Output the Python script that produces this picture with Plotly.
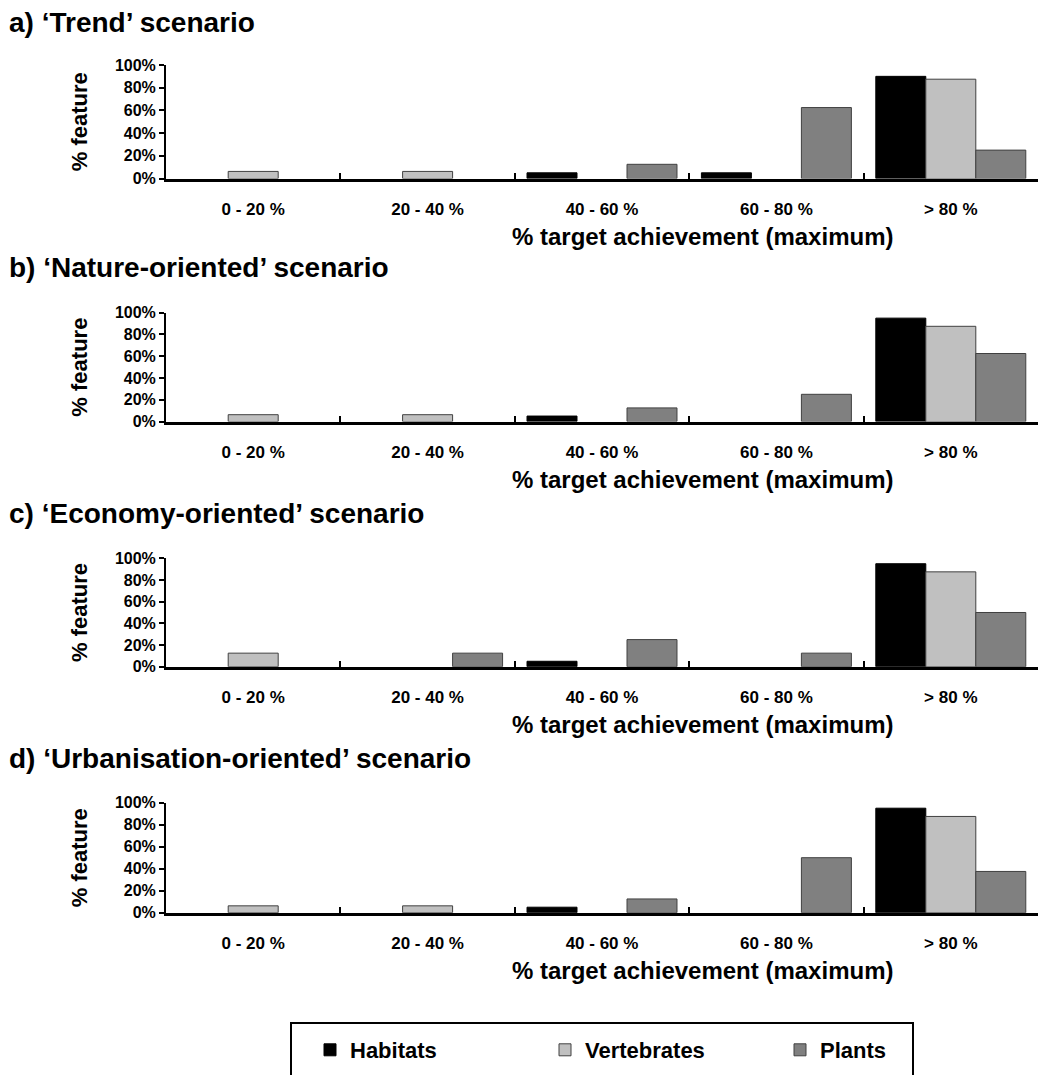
import plotly.graph_objects as go

# ---------------- data ----------------
categories = ["0 - 20 %", "20 - 40 %", "40 - 60 %", "60 - 80 %", "> 80 %"]
series_names = ["Habitats", "Vertebrates", "Plants"]
series_colors = ["#000000", "#c0c0c0", "#808080"]

panel_titles = [
    "a) \u2018Trend\u2019 scenario",
    "b) \u2018Nature-oriented\u2019 scenario",
    "c) \u2018Economy-oriented\u2019 scenario",
    "d) \u2018Urbanisation-oriented\u2019 scenario",
]

# values in % of features
trend_habitats = [0, 0, 5, 5, 90]
trend_vertebrates = [6.25, 6.25, 0, 0, 87.5]
trend_plants = [0, 0, 12.5, 62.5, 25]

nature_habitats = [0, 0, 5, 0, 95]
nature_vertebrates = [6.25, 6.25, 0, 0, 87.5]
nature_plants = [0, 0, 12.5, 25, 62.5]

economy_habitats = [0, 0, 5, 0, 95]
economy_vertebrates = [12.5, 0, 0, 0, 87.5]
economy_plants = [0, 12.5, 25, 12.5, 50]

urban_habitats = [0, 0, 5, 0, 95]
urban_vertebrates = [6.25, 6.25, 0, 0, 87.5]
urban_plants = [0, 0, 12.5, 50, 37.5]

panels = [
    [trend_habitats, trend_vertebrates, trend_plants],
    [nature_habitats, nature_vertebrates, nature_plants],
    [economy_habitats, economy_vertebrates, economy_plants],
    [urban_habitats, urban_vertebrates, urban_plants],
]

x_title = "% target achievement (maximum)"
y_title = "% feature"

# ---------------- layout geometry (pixels) ----------------
W, H = 1038, 1075
plot_left, plot_right = 166, 1038
panel_px = [(65, 178.5), (312.7, 421.5), (558.3, 666.7), (802.7, 912.7)]  # (100% y, 0% y)
title_px = [23, 268, 513, 758]

FONT = "Liberation Sans, Arial, sans-serif"
outline_colors = ["#000000", "#404040", "#404040"]

fig = go.Figure()
layout = dict(
    width=W, height=H,
    margin=dict(l=0, r=0, t=0, b=0, autoexpand=False),
    paper_bgcolor="white", plot_bgcolor="white",
    font=dict(family=FONT, color="black", weight="bold"),
    barmode="group", bargap=0.14, bargroupgap=0.0,
    showlegend=True,
    annotations=[], shapes=[],
)

for i, (vals, (ptop, pbot), tpx) in enumerate(zip(panels, panel_px, title_px)):
    n = "" if i == 0 else str(i + 1)
    for j, (name, col) in enumerate(zip(series_names, series_colors)):
        fig.add_trace(go.Bar(
            x=categories, y=[(v / 100 if v else None) for v in vals[j]],
            name=name, marker=dict(color=col, line=dict(color=outline_colors[j], width=1)),
            xaxis="x" + n, yaxis="y" + n,
            showlegend=(i == 0), legendgroup=name,
        ))
    layout["xaxis" + n] = dict(
        domain=[plot_left / W, plot_right / W], anchor="y" + n,
        type="category", categoryorder="array", categoryarray=categories,
        range=[-0.5, 4.5], tickson="boundaries", ticks="inside", ticklen=6,
        tickwidth=2, tickcolor="black", showline=True, linecolor="black", linewidth=2.5,
        showgrid=False, zeroline=False, tickfont=dict(size=17), ticklabelstandoff=13,
        fixedrange=True,
    )
    layout["yaxis" + n] = dict(
        domain=[1 - pbot / H, 1 - ptop / H], anchor="x" + n,
        range=[0, 1], dtick=0.2, tickformat=".0%", ticks="outside", ticklen=5,
        tickwidth=2, tickcolor="black", showline=True, linecolor="black", linewidth=2,
        showgrid=False, zeroline=False, tickfont=dict(size=16),
        title=dict(text=y_title, font=dict(size=22), standoff=21),
        fixedrange=True,
    )
    layout["annotations"].append(dict(
        text=panel_titles[i], x=7 / W, y=1 - tpx / H, xref="paper", yref="paper",
        xanchor="left", yanchor="middle", showarrow=False, font=dict(size=28),
    ))
    layout["annotations"].append(dict(
        text=x_title, x=702 / W, y=1 - (pbot + 58) / H, xref="paper", yref="paper",
        xanchor="center", yanchor="middle", showarrow=False, font=dict(size=24),
    ))

layout["legend"] = dict(
    orientation="h", x=310 / W, xanchor="left", y=1 - 1050 / H, yanchor="middle",
    font=dict(size=22), entrywidth=190, bgcolor="rgba(0,0,0,0)", borderwidth=0,
    itemwidth=30,
)
layout["shapes"].append(dict(
    type="rect", xref="paper", yref="paper", x0=291 / W, x1=913 / W,
    y0=-0.02, y1=1 - 1023 / H, line=dict(color="black", width=2), fillcolor="rgba(0,0,0,0)",
))

fig.update_layout(**layout)
fig.write_html(
    "out.html",
    config={"displayModeBar": False},
    post_script="document.body.style.margin='0';document.body.style.overflow='hidden';",
)
